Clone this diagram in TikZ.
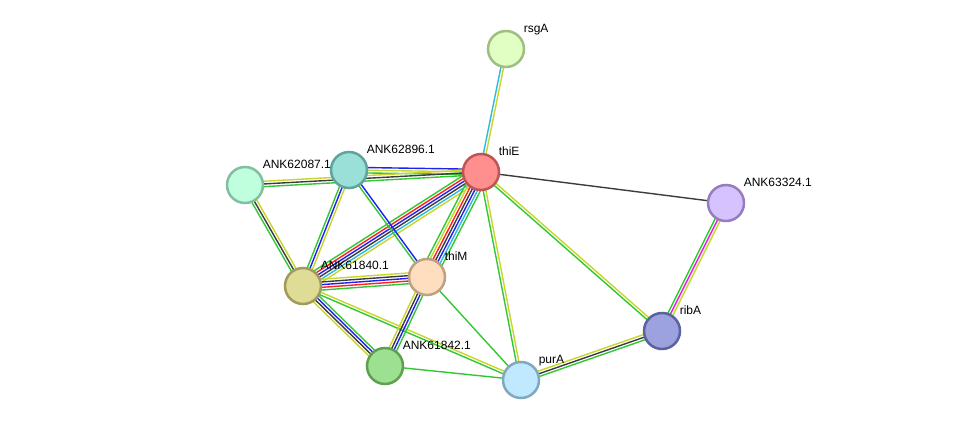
\documentclass[tikz,border=0pt]{standalone}
\usepackage{fontspec}
\setmainfont{Liberation Sans}
\usetikzlibrary{calc,backgrounds}
\definecolor{cnb}{RGB}{51,199,51}
\definecolor{ctm}{RGB}{199,214,42}
\definecolor{cco}{RGB}{60,60,60}
\definecolor{cdb}{RGB}{48,184,222}
\definecolor{cex}{RGB}{224,32,224}
\definecolor{cfu}{RGB}{255,32,32}
\definecolor{ccc}{RGB}{32,32,240}
\definecolor{fthiE}{RGB}{255,143,143}\definecolor{bthiE}{RGB}{190,85,85}
\definecolor{frsgA}{RGB}{225,255,195}\definecolor{brsgA}{RGB}{160,190,130}
\definecolor{fankA}{RGB}{155,224,216}\definecolor{bankA}{RGB}{95,165,155}
\definecolor{fankB}{RGB}{192,255,222}\definecolor{bankB}{RGB}{128,192,160}
\definecolor{fankC}{RGB}{213,195,255}\definecolor{bankC}{RGB}{150,125,190}
\definecolor{fthiM}{RGB}{255,222,192}\definecolor{bthiM}{RGB}{190,160,130}
\definecolor{fankD}{RGB}{222,220,150}\definecolor{bankD}{RGB}{160,155,90}
\definecolor{fribA}{RGB}{155,162,222}\definecolor{bribA}{RGB}{90,98,160}
\definecolor{fankE}{RGB}{158,224,145}\definecolor{bankE}{RGB}{95,160,80}
\definecolor{fpurA}{RGB}{192,232,255}\definecolor{bpurA}{RGB}{128,168,192}
\newcommand\bundle[3]{%
  \foreach \ecol [count=\n] in {#3} {\xdef\nbund{\n}}%
  \foreach \ecol [count=\i] in {#3} {%
    \pgfmathsetmacro\off{(\i-(\nbund+1)/2)*2.7}%
    \draw[edge,\ecol] ($(#1.center)!\off pt!-90:(#2.center)$) -- ($(#2.center)!\off pt!90:(#1.center)$);
  }}
\begin{document}
\begin{tikzpicture}[x=1pt,y=-1pt,
  prot/.style 2 args={circle,minimum size=36pt,inner sep=0pt,line width=2.5pt,fill=#1,draw=#2},
  lbl/.style={anchor=base west,inner sep=2pt,xshift=2pt,yshift=3pt,font=\fontsize{12}{14}\selectfont},
  edge/.style={line width=1.4pt}]
  \useasboundingbox (0,0) rectangle (975,425);
  \node[prot={frsgA}{brsgA},label={[lbl]north east:rsgA}] (rsgA) at (506,49) {};
  \node[prot={fthiE}{bthiE},label={[lbl]north east:thiE}] (thiE) at (481,172) {};
  \node[prot={fankA}{bankA},label={[lbl]north east:ANK62896.1}] (ank62896) at (349,170) {};
  \node[prot={fankB}{bankB},label={[lbl]north east:ANK62087.1}] (ank62087) at (245,185) {};
  \node[prot={fankC}{bankC},label={[lbl]north east:ANK63324.1}] (ank63324) at (726,203) {};
  \node[prot={fthiM}{bthiM},label={[lbl]north east:thiM}] (thiM) at (427,277) {};
  \node[prot={fankD}{bankD},label={[lbl]north east:ANK61840.1}] (ank61840) at (303,286) {};
  \node[prot={fribA}{bribA},label={[lbl]north east:ribA}] (ribA) at (662,331) {};
  \node[prot={fankE}{bankE},label={[lbl]north east:ANK61842.1}] (ank61842) at (385,366) {};
  \node[prot={fpurA}{bpurA},label={[lbl]north east:purA}] (purA) at (521,380) {};
  \begin{pgfonlayer}{background}
    \bundle{rsgA}{thiE}{ctm,cdb}
    \bundle{thiE}{ank63324}{cco}
    \bundle{ank63324}{ribA}{ctm,cex,cnb}
    \bundle{thiE}{ribA}{ctm,cnb}
    \bundle{thiE}{purA}{ctm,cnb}
    \bundle{ribA}{purA}{cnb,cco,ctm}
    \bundle{thiE}{ank62896}{cnb,ctm,ccc}
    \bundle{ank62087}{thiE}{ctm,cco,cnb}
    \bundle{thiE}{ank61840}{ctm,cdb,cco,ccc,cfu,cnb}
    \bundle{thiE}{thiM}{cnb,cdb,ccc,cco,cfu,ctm,cnb}
    \bundle{ank62896}{ank61840}{ctm,ccc,cnb}
    \bundle{ank62896}{thiM}{ccc,cnb}
    \bundle{ank62087}{ank61840}{ctm,cco,cnb}
    \bundle{ank61840}{thiM}{ctm,cco,ccc,cfu,cnb}
    \bundle{ank61840}{ank61842}{cnb,ccc,cco,ctm}
    \bundle{ank61840}{purA}{ctm,cnb}
    \bundle{thiM}{ank61842}{cnb,ccc,cco,ctm}
    \bundle{thiM}{purA}{cnb}
    \bundle{ank61842}{purA}{cnb}
  \end{pgfonlayer}
\end{tikzpicture}
\end{document}
